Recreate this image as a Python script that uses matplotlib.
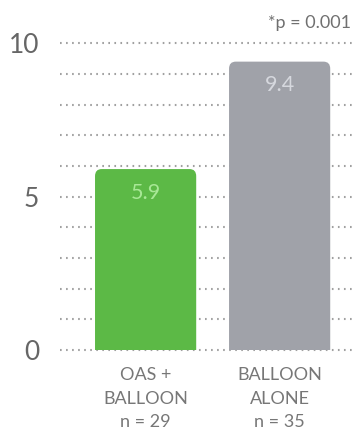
import matplotlib.pyplot as plt
from matplotlib.patches import FancyBboxPatch, Rectangle

groups = ['OAS +\nBALLOON\nn = 29', 'BALLOON\nALONE\nn = 35']
values = [5.9, 9.4]
bar_colors = ['#5cb946', '#a0a2a9']
label_colors = ['#a8e896', '#d6d8de']
yticks = [0, 5, 10]

plt.rcParams['font.family'] = ['Lato', 'DejaVu Sans']

fig = plt.figure(figsize=(3.52, 4.41), dpi=100)
ax = fig.add_axes([0.17, 0.206, 0.83, 0.696])

ax.set_xlim(-0.64, 1.54)
ax.set_ylim(0, 10)

# dotted guide lines at every unit
for y in range(0, 11):
    ax.axhline(y, color='#a0a0a0', lw=1.5, ls=(0, (0.8, 2.1)), zorder=1, clip_on=False)

width = 0.755
for i, (v, c, lc) in enumerate(zip(values, bar_colors, label_colors)):
    patch = FancyBboxPatch((i - width / 2, -1), width, v + 1,
                           boxstyle='round,pad=0,rounding_size=0.05',
                           mutation_aspect=4.6, fc=c, ec='none', zorder=2)
    ax.add_patch(patch)
    patch.set_clip_path(Rectangle((i - width / 2 - 0.1, 0), width + 0.2, 11,
                                  transform=ax.transData))
    ax.text(i, v - 0.45, f'{v}', ha='center', va='top', fontsize=15.5,
            color=lc, zorder=3)

ax.set_xticks([0, 1])
ax.set_xticklabels(groups, fontsize=13, color='#777777', linespacing=1.6)
ax.set_yticks(yticks)
ax.set_yticklabels([str(t) for t in yticks], fontsize=19, color='#666666')
ax.tick_params(length=0)
ax.tick_params(axis='x', pad=12)
ax.tick_params(axis='y', pad=15)
for s in ax.spines.values():
    s.set_visible(False)

fig.text(0.998, 0.948, '*p = 0.001', ha='right', va='center', fontsize=13,
         color='#707070')

fig.savefig('out.png', dpi=100)
